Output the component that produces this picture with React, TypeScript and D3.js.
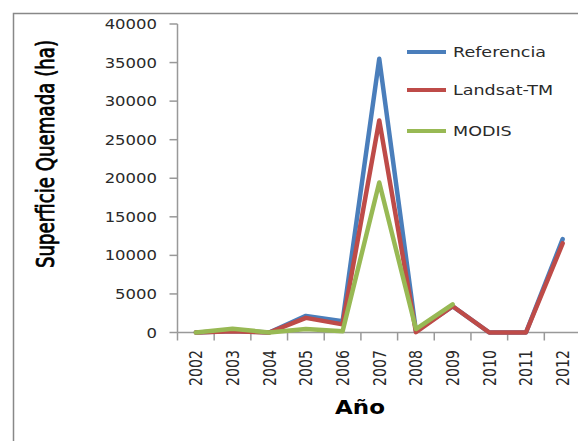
import React from "react";
import * as d3 from "d3";

const years = ["2002", "2003", "2004", "2005", "2006", "2007", "2008", "2009", "2010", "2011", "2012"];
const referencia: (number | null)[] = [0, 200, 0, 2150, 1450, 35500, 200, 3400, 0, 0, 12100];
const landsat: (number | null)[] = [0, 150, 0, 1900, 1050, 27500, 50, 3400, 0, 0, 11550];
const modis: (number | null)[] = [0, 500, 0, 450, 150, 19450, 450, 3650, null, null, null];
const yTicks = [0, 5000, 10000, 15000, 20000, 25000, 30000, 35000, 40000];

const seriesList = [
  { name: "Referencia", values: referencia, color: "#4a7ebb" },
  { name: "Landsat-TM", values: landsat, color: "#be4b48" },
  { name: "MODIS", values: modis, color: "#98b954" },
];

const W = 578;
const H = 441;
const x0 = 177.5;
const x1 = 581;
const yBottom = 332.5;
const yTop = 24;
const SX = 1.3;

export default function App() {
  const xBand = d3.scaleBand<string>().domain(years).range([x0, x1]).padding(0);
  const y = d3.scaleLinear().domain([0, 40000]).range([yBottom, yTop]);
  const cx = (yr: string) => (xBand(yr) as number) + xBand.bandwidth() / 2;

  const line = d3
    .line<{ yr: string; v: number | null }>()
    .defined((d) => d.v !== null)
    .x((d) => cx(d.yr))
    .y((d) => y(d.v as number));

  const boundaries = years.map((yr) => xBand(yr) as number).concat([x1]);
  const legendY = [52, 90, 131];
  const textColor = "#2a2a2a";
  const font = "DejaVu Sans, Verdana, sans-serif";

  return (
    <svg
      width={W}
      height={H}
      style={{ position: "absolute", left: 0, top: 0, display: "block", background: "#fff" }}
      fontFamily={font}
    >
      <rect x={13.5} y={13.5} width={W + 20} height={H + 20} fill="#fff" stroke="#888" strokeWidth={1.5} />

      {/* y axis */}
      <line x1={x0} x2={x0} y1={yTop} y2={yBottom} stroke="#999" strokeWidth={1.5} />
      {yTicks.map((t) => (
        <g key={t}>
          <line x1={x0 - 8} x2={x0} y1={y(t)} y2={y(t)} stroke="#999" strokeWidth={1.5} />
          <text
            transform={`translate(157,${y(t) + 5}) scale(1.22,1)`}
            textAnchor="end"
            fontSize={13.5}
            fill={textColor}
          >
            {t}
          </text>
        </g>
      ))}

      {/* x axis */}
      <line x1={x0} x2={x1} y1={yBottom} y2={yBottom} stroke="#999" strokeWidth={1.5} />
      {boundaries.map((b, i) => (
        <line key={i} x1={b} x2={b} y1={yBottom} y2={yBottom + 8} stroke="#999" strokeWidth={1.5} />
      ))}
      {years.map((yr) => (
        <text
          key={yr}
          transform={`translate(${cx(yr) + 6.5},350) scale(${SX + 0.05},1) rotate(-90)`}
          textAnchor="end"
          fontSize={13.5}
          fill={textColor}
          textLength={36}
          lengthAdjust="spacingAndGlyphs"
        >
          {yr}
        </text>
      ))}

      {/* series */}
      {seriesList.map((s) => (
        <path
          key={s.name}
          d={line(years.map((yr, i) => ({ yr, v: s.values[i] }))) || ""}
          fill="none"
          stroke={s.color}
          strokeWidth={4.5}
          strokeLinejoin="round"
          strokeLinecap="round"
        />
      ))}

      {/* legend */}
      {seriesList.map((s, i) => (
        <g key={s.name}>
          <line x1={407} x2={446} y1={legendY[i]} y2={legendY[i]} stroke={s.color} strokeWidth={4} />
          <text
            transform={`translate(453,${legendY[i] + 5}) scale(${SX},1)`}
            fontSize={13.5}
            fill={textColor}
          >
            {s.name}
          </text>
        </g>
      ))}

      {/* axis titles */}
      <text
        transform={`translate(54,154) scale(1.35,1) rotate(-90)`}
        textAnchor="middle"
        fontSize={18}
        fill="#000"
        stroke="#000"
        strokeWidth={0.6}
        textLength={228}
        lengthAdjust="spacingAndGlyphs"
      >
        Superficie Quemada (ha)
      </text>
      <text
        transform={`translate(360,414) scale(1.15,1)`}
        textAnchor="middle"
        fontSize={20}
        fontWeight="bold"
        fill="#000"
      >
        Año
      </text>
    </svg>
  );
}
